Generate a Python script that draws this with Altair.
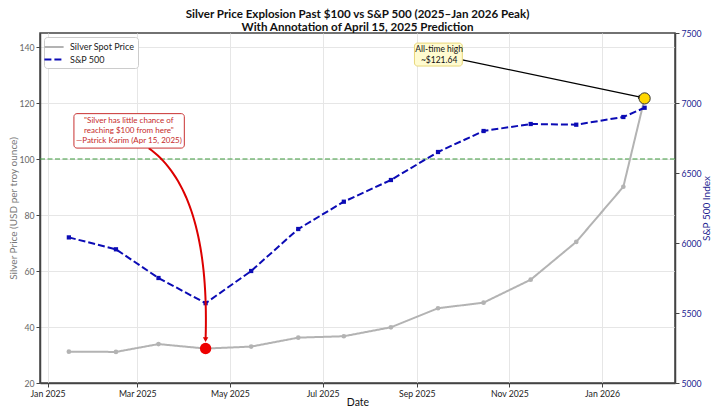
import altair as alt
import pandas as pd
import numpy as np

# ---------------- data ----------------
dates = ["2025-01-15", "2025-02-15", "2025-03-15", "2025-04-15", "2025-05-15",
         "2025-06-15", "2025-07-15", "2025-08-15", "2025-09-15", "2025-10-15",
         "2025-11-15", "2025-12-15", "2026-01-15", "2026-01-29"]
silver = [31.2, 31.1, 33.9, 32.3, 33.0, 36.2, 36.7, 39.9, 46.7, 48.7, 56.9, 70.4, 90.1, 121.64]
sp500 = [6040, 5955, 5750, 5570, 5800, 6100, 6295, 6450, 6650, 6800, 6850, 6845, 6900, 6966]

series_names = ["Silver Spot Price", "S&P 500"]
x_tick_dates = ["2025-01-01", "2025-03-01", "2025-05-01", "2025-07-01",
                "2025-09-01", "2025-11-01", "2026-01-01"]
silver_ticks = [20, 40, 60, 80, 100, 120, 140]
sp_ticks = [5000, 5500, 6000, 6500, 7000, 7500]

prediction_date = "2025-04-15"
prediction_value = 32.3
peak_date = "2026-01-29"
peak_value = 121.64
threshold = 100

quote_text = ["\"Silver has little chance of", "reaching $100 from here\"",
              "\u2014Patrick Karim (Apr 15, 2025)"]
peak_text = ["All-time high", "~$121.64"]

# annotation anchors (data coordinates)
quote_box = dict(d0="2025-01-18 08:00", d1="2025-04-01 00:00", v0=116.2, v1=103.9)
quote_first_line = dict(d="2025-02-23 12:00", v=113.7)
peak_box = dict(d0="2025-08-30 12:00", d1="2025-10-01 00:00", v0=141.4, v1=133.2)
peak_first_line = dict(d="2025-09-15 18:00", v=139.2)
curve_start = ("2025-03-08 14:00", 103.9)
curve_ctrl = ("2025-04-18 00:00", 88.0)
curve_end = ("2025-04-15 00:00", 35.5)
arrow_start = ("2025-10-01 00:00", 135.4)
arrow_end = ("2026-01-26 06:00", 122.1)

# ---------------- styling ----------------
FONT = "Lato"
GRAY = "#b3b3b3"
BLUE = "#0b0bb5"
RED_TXT = "#c62a2a"
RED = "#dd0000"
GREEN = "#3c9a3c"
SPINE = "#444444"
AXBLUE = "#22228f"

x_domain = [alt.DateTime(year=2024, month=12, date=27),
            alt.DateTime(year=2026, month=2, date=18)]
x_values = [alt.DateTime(year=int(s[:4]), month=int(s[5:7]), date=1) for s in x_tick_dates]

X = alt.X("d:T",
          scale=alt.Scale(domain=x_domain),
          axis=alt.Axis(values=x_values, format="%b %Y", title="Date",
                        labelFontSize=8.7, labelColor="#222222", titleFontSize=10.5,
                        titleColor="#111111", titleFontWeight="normal",
                        tickSize=4, tickColor=SPINE, domainColor=SPINE, domainWidth=1.5,
                        gridColor="#e6e6e6", grid=True, labelPadding=2, titlePadding=0))

Y_SILVER = alt.Y("v:Q",
                 scale=alt.Scale(domain=[20, 145], nice=False, zero=False),
                 axis=alt.Axis(values=silver_ticks, orient="left",
                               title="Silver Price (USD per troy ounce)",
                               labelFontSize=8.7, labelColor="#666666",
                               titleFontSize=10, titleColor="#777777",
                               titleFontWeight="normal", tickSize=4, tickColor=SPINE,
                               domainColor=SPINE, domainWidth=1.5, grid=True,
                               gridColor="#e6e6e6", labelPadding=2, titlePadding=0.5))
Y_SILVER_NOAX = alt.Y("v:Q", scale=alt.Scale(domain=[20, 145], nice=False, zero=False),
                      axis=None)
Y_SP = alt.Y("v:Q",
             scale=alt.Scale(domain=[5000, 7500], nice=False, zero=False),
             axis=alt.Axis(values=sp_ticks, orient="right", title="S&P 500 Index",
                           format="d", titleAngle=270, titleBaseline="top",
                           labelFontSize=8.7, labelColor=AXBLUE, titleFontSize=10,
                           titleColor=AXBLUE, titleFontWeight="normal", tickSize=4,
                           tickColor=SPINE, domainColor=SPINE, domainWidth=1.5,
                           grid=False, labelPadding=2, titlePadding=0.5))

legend = alt.Legend(title=None, orient="top-left", offset=4,
                    fillColor="white", strokeColor="#cccccc",
                    cornerRadius=3, padding=3, labelFontSize=9,
                    labelColor="#222222", symbolType="M-1.6,0H1.6",
                    symbolStrokeWidth=2, symbolSize=144,
                    rowPadding=0.5, labelOffset=9)
color_enc = alt.Color("series:N",
                      scale=alt.Scale(domain=series_names, range=[GRAY, BLUE]),
                      legend=legend)
dash_enc = alt.StrokeDash("series:N",
                          scale=alt.Scale(domain=series_names, range=[[1, 0], [7, 3]]),
                          legend=legend)

# ---------------- tables ----------------
silver_df = pd.DataFrame({"d": pd.to_datetime(dates), "v": silver, "series": series_names[0]})
sp_df = pd.DataFrame({"d": pd.to_datetime(dates), "v": sp500, "series": series_names[1]})

# ---------------- silver group ----------------
silver_line = alt.Chart(silver_df).mark_line(strokeWidth=2).encode(
    x=X, y=Y_SILVER, color=color_enc, strokeDash=dash_enc)
silver_pts = alt.Chart(silver_df).mark_circle(size=22, color=GRAY, opacity=1).encode(
    x=X, y=Y_SILVER)
thr_rule = alt.Chart(pd.DataFrame({"v": [threshold]})).mark_rule(
    color=GREEN, strokeDash=[5, 2.5], strokeWidth=1.2).encode(y=Y_SILVER)

silver_group = alt.layer(thr_rule, silver_line, silver_pts)

# ---------------- S&P group ----------------
sp_line = alt.Chart(sp_df).mark_line(strokeWidth=2).encode(
    x=X, y=Y_SP, color=color_enc, strokeDash=dash_enc)
sp_pts = alt.Chart(sp_df).mark_square(size=18, color=BLUE, opacity=1).encode(x=X, y=Y_SP)
sp_group = alt.layer(sp_line, sp_pts)

# ---------------- annotation group (silver scale, no axis) ----------------
def ts(s):
    return pd.Timestamp(s).value / 1e6

t = np.linspace(0, 1, 40)
c0, c1, c2 = [ts(p[0]) for p in (curve_start, curve_ctrl, curve_end)]
v0, v1, v2 = [p[1] for p in (curve_start, curve_ctrl, curve_end)]
cx = (1 - t) ** 2 * c0 + 2 * (1 - t) * t * c1 + t ** 2 * c2
cy = (1 - t) ** 2 * v0 + 2 * (1 - t) * t * v1 + t ** 2 * v2
curve_df = pd.DataFrame({"d": pd.to_datetime(cx, unit="ms"), "v": cy, "o": np.arange(len(t))})

red_curve = alt.Chart(curve_df).mark_line(color=RED, strokeWidth=2).encode(
    x=X, y=Y_SILVER_NOAX, order="o:Q")
red_head = alt.Chart(pd.DataFrame({"d": [pd.Timestamp(curve_end[0])], "v": [curve_end[1]]})
                     ).mark_point(shape="triangle-down", filled=True, color=RED, size=30,
                                  opacity=1).encode(x=X, y=Y_SILVER_NOAX)
red_marker = alt.Chart(pd.DataFrame({"d": [pd.Timestamp(prediction_date)],
                                     "v": [prediction_value]})).mark_circle(
    size=130, color="#ee0000", opacity=1).encode(x=X, y=Y_SILVER_NOAX)

quote_rect = alt.Chart(pd.DataFrame({"d": [pd.Timestamp(quote_box["d0"])],
                                     "d2": [pd.Timestamp(quote_box["d1"])],
                                     "v": [quote_box["v0"]], "v2": [quote_box["v1"]]})
                       ).mark_rect(fill="white", stroke="#c83232", strokeWidth=1,
                                   cornerRadius=3).encode(
    x=X, x2="d2:T", y=Y_SILVER_NOAX, y2="v2:Q")
quote_lbl = alt.Chart(pd.DataFrame({"d": [pd.Timestamp(quote_first_line["d"])],
                                    "v": [quote_first_line["v"]],
                                    "txt": ["\n".join(quote_text)]})).mark_text(
    font=FONT, fontSize=8, color=RED_TXT, lineBreak="\n", lineHeight=10.3,
    align="center", baseline="middle").encode(x=X, y=Y_SILVER_NOAX, text="txt:N")

arrow_rule = alt.Chart(pd.DataFrame({"d": [pd.Timestamp(arrow_start[0])],
                                     "d2": [pd.Timestamp(arrow_end[0])],
                                     "v": [arrow_start[1]], "v2": [arrow_end[1]]})
                       ).mark_rule(color="black", strokeWidth=1.2).encode(
    x=X, x2="d2:T", y=Y_SILVER_NOAX, y2="v2:Q")
arrow_head = alt.Chart(pd.DataFrame({"d": [pd.Timestamp(arrow_end[0])], "v": [arrow_end[1]]})
                       ).mark_point(shape="triangle-right", filled=True, color="black",
                                    size=22, angle=12, opacity=1).encode(x=X, y=Y_SILVER_NOAX)

peak_rect = alt.Chart(pd.DataFrame({"d": [pd.Timestamp(peak_box["d0"])],
                                    "d2": [pd.Timestamp(peak_box["d1"])],
                                    "v": [peak_box["v0"]], "v2": [peak_box["v1"]]})
                      ).mark_rect(fill="#fffbd0", stroke="#e8d77a", strokeWidth=1,
                                  cornerRadius=3).encode(
    x=X, x2="d2:T", y=Y_SILVER_NOAX, y2="v2:Q")
peak_lbl = alt.Chart(pd.DataFrame({"d": [pd.Timestamp(peak_first_line["d"])],
                                   "v": [peak_first_line["v"]],
                                   "txt": ["\n".join(peak_text)]})).mark_text(
    font=FONT, fontSize=8.5, color="#111111", lineBreak="\n", lineHeight=10.5,
    align="center", baseline="middle").encode(x=X, y=Y_SILVER_NOAX, text="txt:N")
peak_marker = alt.Chart(pd.DataFrame({"d": [pd.Timestamp(peak_date)], "v": [peak_value]})
                        ).mark_point(shape="circle", filled=True, fill="#ffd700",
                                     stroke="#333333", strokeWidth=1, size=125,
                                     opacity=1).encode(x=X, y=Y_SILVER_NOAX)

annot_group = alt.layer(red_curve, red_head, red_marker, quote_rect, quote_lbl,
                        arrow_rule, arrow_head, peak_rect, peak_lbl, peak_marker)

chart = alt.layer(silver_group, sp_group, annot_group).resolve_scale(
    y="independent").properties(
    width=635, height=350,
    title=alt.Title(["Silver Price Explosion Past $100 vs S&P 500 (2025\u2013Jan 2026 Peak)",
                     "With Annotation of April 15, 2025 Prediction"],
                    fontSize=11.6, font=FONT, fontWeight="bold", color="#111111",
                    anchor="middle", offset=-5, lineHeight=13),
    autosize=alt.AutoSizeParams(type="none"),
    padding={"left": 32, "top": 25, "right": 37, "bottom": 27},
).configure(font=FONT).configure_view(stroke=SPINE, strokeWidth=1.5)

chart.save("out.html", embed_options={"renderer": "svg", "actions": False})
